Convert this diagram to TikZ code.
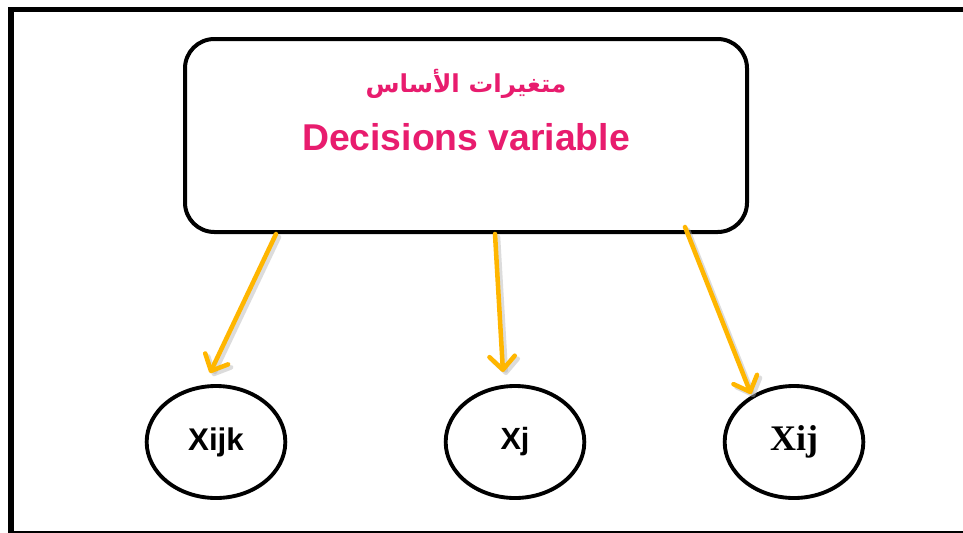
\documentclass[tikz,border=0pt]{standalone}
\usepackage{fontspec}
\usetikzlibrary{arrows.meta,shapes.geometric}
\TeXXeTstate=1
\newfontfamily\arabicfont[Script=Arabic]{DejaVu Sans}
\newfontfamily\arialfont{Liberation Sans}
\newfontfamily\timesfont{Liberation Serif}
\definecolor{titlepink}{RGB}{232,28,110}
\definecolor{arroworange}{RGB}{255,182,0}
\tikzset{
  framebox/.style={draw=black, line width=3.9pt},
  mainbox/.style={draw=black, line width=3pt, rounded corners=22pt, minimum width=421.5pt, minimum height=144.75pt, inner sep=0pt},
  varnode/.style={draw=black, line width=2.9pt, ellipse, minimum width=104pt, minimum height=84pt, inner sep=0pt},
  flowarrow/.style={draw=arroworange, line width=3.4pt, line cap=round,
    -{Straight Barb[length=10pt, width=19pt, line width=3.4pt, round]}},
  flowshadow/.style={draw=black!30, opacity=0.45, line width=3.4pt, line cap=round,
    -{Straight Barb[length=10pt, width=19pt, line width=3.4pt, round]}}
}
\begin{document}
\begin{tikzpicture}[x=0.75pt, y=-0.75pt]
  \useasboundingbox (0,0) rectangle (963,532);
  \fill[white] (0,0) rectangle (963,532);
  % outer frame (right and bottom edges run past the page)
  \draw[framebox] (11,9.5) rectangle (975,533.5);

  % heading box
  \node[mainbox] (box) at (466,135.5) {};
  \node[text=titlepink, font={\arabicfont\bfseries\fontsize{18.5}{22}\selectfont}] (artitle) at (466,84)
    {\beginR متغيرات الأساس\endR};
  \node[text=titlepink, font={\arialfont\bfseries\fontsize{28}{32}\selectfont}] (entitle) at (466,137)
    {Decisions variable};

  % variable nodes
  \node[varnode, font={\arialfont\bfseries\fontsize{23.5}{26}\selectfont}] (xijk) at (216,442) {Xijk};
  \node[varnode, font={\arialfont\bfseries\fontsize{23}{26}\selectfont}] (xj) at (515,442) {Xj};
  \node[varnode, font={\timesfont\bfseries\fontsize{27}{30}\selectfont}] (xij) at (794,442) {Xij};

  % arrow end points
  \coordinate (s1) at (276,234);
  \coordinate (t1) at (210,373);
  \coordinate (s2) at (495,234);
  \coordinate (t2) at (503,372);
  \coordinate (s3) at (685,227);
  \coordinate (t3) at (751,394);

  % soft shadows under the arrows
  \draw[flowshadow] ([shift={(3,3)}]s1) -- ([shift={(3,3)}]t1);
  \draw[flowshadow] ([shift={(3,3)}]s2) -- ([shift={(3,3)}]t2);
  \draw[flowshadow] ([shift={(3,3)}]s3) -- ([shift={(3,3)}]t3);

  % arrows from the heading box to the variables
  \draw[flowarrow] (s1) -- (t1);
  \draw[flowarrow] (s2) -- (t2);
  \draw[flowarrow] (s3) -- (t3);
\end{tikzpicture}
\end{document}
